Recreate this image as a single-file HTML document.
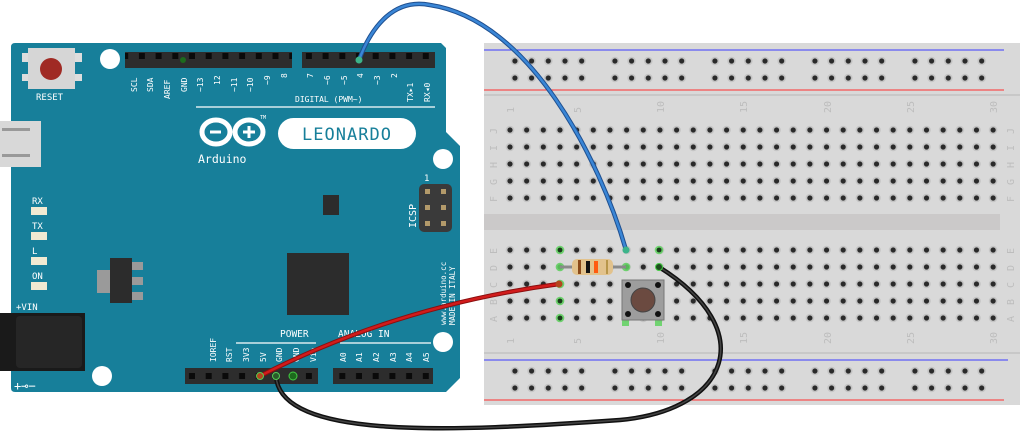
<!DOCTYPE html>
<html><head><meta charset="utf-8"><style>
html,body{margin:0;padding:0;background:#fff;width:1024px;height:448px;overflow:hidden}
svg{display:block}
text{font-family:"DejaVu Sans Mono","Liberation Mono",monospace}
</style></head><body>
<svg width="1024" height="448" viewBox="0 0 1024 448" xmlns="http://www.w3.org/2000/svg">
<defs>
<pattern id="g1" patternUnits="userSpaceOnUse" x="501.67" y="121.5" width="16.66" height="17">
<circle cx="8.33" cy="8.5" r="4.3" fill="#c4c4c4"/><circle cx="8.33" cy="8.5" r="2.6" fill="#2a2a2a"/></pattern>
<pattern id="g2" patternUnits="userSpaceOnUse" x="501.67" y="241.5" width="16.66" height="17">
<circle cx="8.33" cy="8.5" r="4.3" fill="#c4c4c4"/><circle cx="8.33" cy="8.5" r="2.6" fill="#2a2a2a"/></pattern>
<pattern id="r1" patternUnits="userSpaceOnUse" x="506.6" y="52.5" width="100" height="17">
<g fill="#c4c4c4"><circle cx="8.35" cy="8.5" r="4.3"/><circle cx="25" cy="8.5" r="4.3"/><circle cx="41.7" cy="8.5" r="4.3"/><circle cx="58.4" cy="8.5" r="4.3"/><circle cx="75.1" cy="8.5" r="4.3"/></g>
<g fill="#2a2a2a"><circle cx="8.35" cy="8.5" r="2.6"/><circle cx="25" cy="8.5" r="2.6"/><circle cx="41.7" cy="8.5" r="2.6"/><circle cx="58.4" cy="8.5" r="2.6"/><circle cx="75.1" cy="8.5" r="2.6"/></g></pattern>
<pattern id="r2" patternUnits="userSpaceOnUse" x="506.6" y="362.5" width="100" height="17">
<g fill="#c4c4c4"><circle cx="8.35" cy="8.5" r="4.3"/><circle cx="25" cy="8.5" r="4.3"/><circle cx="41.7" cy="8.5" r="4.3"/><circle cx="58.4" cy="8.5" r="4.3"/><circle cx="75.1" cy="8.5" r="4.3"/></g>
<g fill="#2a2a2a"><circle cx="8.35" cy="8.5" r="2.6"/><circle cx="25" cy="8.5" r="2.6"/><circle cx="41.7" cy="8.5" r="2.6"/><circle cx="58.4" cy="8.5" r="2.6"/><circle cx="75.1" cy="8.5" r="2.6"/></g></pattern>
<pattern id="hp" patternUnits="userSpaceOnUse" x="0" y="0" width="16.7" height="16">
<rect width="16.7" height="16" fill="#2d2d2d"/><rect x="5.3" y="5" width="6" height="6" fill="#0a0a0a"/></pattern>
</defs>

<!-- Breadboard -->
<rect x="484" y="43" width="536" height="362" fill="#d9d9d9"/>
<rect x="484" y="94" width="536" height="2" fill="#c8c8c8"/>
<rect x="484" y="352" width="536" height="2" fill="#c8c8c8"/>
<line x1="484" y1="50" x2="1004" y2="50" stroke="#3b3bff" stroke-width="1"/>
<line x1="484" y1="90" x2="1004" y2="90" stroke="#ff3030" stroke-width="1"/>
<line x1="484" y1="360" x2="1008" y2="360" stroke="#3b3bff" stroke-width="1"/>
<line x1="484" y1="400" x2="1004" y2="400" stroke="#ff3030" stroke-width="1"/>
<rect x="484" y="214" width="516" height="16" fill="#cbc9c9"/>
<rect x="506.6" y="52.5" width="500" height="34" fill="url(#r1)"/>
<rect x="506.6" y="362.5" width="500" height="34" fill="url(#r2)"/>
<rect x="501.67" y="121.5" width="499.8" height="85" fill="url(#g1)"/>
<rect x="501.67" y="241.5" width="499.8" height="85" fill="url(#g2)"/>
<g fill="#bdbdbd" font-size="10" font-family="Liberation Sans,sans-serif">
<g transform="translate(514,113) rotate(-90)"><text>1</text></g>
<g transform="translate(581,113) rotate(-90)"><text>5</text></g>
<g transform="translate(664,113) rotate(-90)"><text>10</text></g>
<g transform="translate(747,113) rotate(-90)"><text>15</text></g>
<g transform="translate(831,113) rotate(-90)"><text>20</text></g>
<g transform="translate(914,113) rotate(-90)"><text>25</text></g>
<g transform="translate(997,113) rotate(-90)"><text>30</text></g>
<g transform="translate(514,344) rotate(-90)"><text>1</text></g>
<g transform="translate(581,344) rotate(-90)"><text>5</text></g>
<g transform="translate(664,344) rotate(-90)"><text>10</text></g>
<g transform="translate(747,344) rotate(-90)"><text>15</text></g>
<g transform="translate(831,344) rotate(-90)"><text>20</text></g>
<g transform="translate(914,344) rotate(-90)"><text>25</text></g>
<g transform="translate(997,344) rotate(-90)"><text>30</text></g>
<g transform="translate(497,134) rotate(-90)"><text>J</text></g>
<g transform="translate(497,151) rotate(-90)"><text>I</text></g>
<g transform="translate(497,168) rotate(-90)"><text>H</text></g>
<g transform="translate(497,185) rotate(-90)"><text>G</text></g>
<g transform="translate(497,202) rotate(-90)"><text>F</text></g>
<g transform="translate(497,254) rotate(-90)"><text>E</text></g>
<g transform="translate(497,271) rotate(-90)"><text>D</text></g>
<g transform="translate(497,288) rotate(-90)"><text>C</text></g>
<g transform="translate(497,305) rotate(-90)"><text>B</text></g>
<g transform="translate(497,322) rotate(-90)"><text>A</text></g>
<g transform="translate(1014,134) rotate(-90)"><text>J</text></g>
<g transform="translate(1014,151) rotate(-90)"><text>I</text></g>
<g transform="translate(1014,168) rotate(-90)"><text>H</text></g>
<g transform="translate(1014,185) rotate(-90)"><text>G</text></g>
<g transform="translate(1014,202) rotate(-90)"><text>F</text></g>
<g transform="translate(1014,254) rotate(-90)"><text>E</text></g>
<g transform="translate(1014,271) rotate(-90)"><text>D</text></g>
<g transform="translate(1014,288) rotate(-90)"><text>C</text></g>
<g transform="translate(1014,305) rotate(-90)"><text>B</text></g>
<g transform="translate(1014,322) rotate(-90)"><text>A</text></g>
</g>
<!-- green highlights -->
<g fill="#5fd35f" opacity="0.85">
<circle cx="560" cy="250" r="4.3"/><circle cx="560" cy="267" r="4.3"/><circle cx="560" cy="284" r="4.3"/><circle cx="560" cy="301" r="4.3"/><circle cx="560" cy="318" r="4.3"/>
<circle cx="626" cy="267" r="4.3"/><circle cx="626" cy="284" r="4.3"/><circle cx="659" cy="250" r="4.3"/><circle cx="659" cy="284" r="4.3"/>
<rect x="622" y="316" width="7" height="10"/><rect x="655" y="316" width="7" height="10"/>
</g>
<g fill="#1a3a1a"><circle cx="560" cy="250" r="2.4"/><circle cx="560" cy="301" r="2.4"/><circle cx="560" cy="318" r="2.4"/><circle cx="659" cy="250" r="2.4"/></g>
<!-- resistor -->
<line x1="560" y1="267" x2="626" y2="267" stroke="#8a8a8a" stroke-width="3"/>
<rect x="572" y="259" width="41" height="16" rx="5" fill="#e2c28c"/>
<rect x="578" y="260" width="3" height="14" fill="#8a4a1a"/>
<rect x="586" y="261" width="4" height="12" fill="#111"/>
<rect x="594" y="261" width="4" height="12" fill="#ff5a10"/>
<rect x="606" y="260" width="2" height="14" fill="#b8964a"/>
<!-- button -->
<rect x="622" y="280" width="42" height="40" fill="#9d9d9d" stroke="#777" stroke-width="1"/>
<circle cx="628" cy="285" r="3" fill="#111"/><circle cx="658" cy="285" r="3" fill="#111"/>
<circle cx="628" cy="314" r="3" fill="#111"/><circle cx="658" cy="314" r="3" fill="#111"/>
<circle cx="643" cy="300" r="12" fill="#6b4a40" stroke="#444" stroke-width="1"/>

<!-- Arduino -->
<path d="M15,43 L441,43 L446,48 L446,132 L460,146 L460,378 L446,392 L15,392 Q11,392 11,388 L11,47 Q11,43 15,43 Z" fill="#177f9a"/>
<circle cx="110" cy="59" r="10" fill="#fff"/>
<circle cx="443" cy="159" r="10" fill="#fff"/>
<circle cx="443" cy="342" r="10" fill="#fff"/>
<circle cx="102" cy="376" r="10" fill="#fff"/>
<!-- reset -->
<rect x="22" y="53" width="60" height="9" fill="#ddd"/><rect x="22" y="74" width="60" height="7" fill="#ddd"/>
<rect x="28" y="48" width="47" height="41" fill="#d6d6d6"/>
<circle cx="51" cy="69" r="11" fill="#a02a24"/>
<text x="36" y="100" font-size="9" fill="#fff">RESET</text>
<!-- usb -->
<rect x="0" y="121" width="41" height="46" fill="#d8d8d8"/>
<rect x="2" y="128" width="28" height="3" fill="#999"/><rect x="2" y="154" width="28" height="3" fill="#999"/>
<!-- LEDs -->
<g fill="#fff" font-size="9"><text x="32" y="204">RX</text><text x="32" y="229">TX</text><text x="32" y="254">L</text><text x="32" y="279">ON</text></g>
<g fill="#f1ead2"><rect x="31" y="207" width="16" height="8"/><rect x="31" y="232" width="16" height="8"/><rect x="31" y="257" width="16" height="8"/><rect x="31" y="282" width="16" height="8"/></g>
<!-- regulator -->
<rect x="97" y="270" width="13" height="23" fill="#9a9a9a"/>
<rect x="131" y="262" width="12" height="8" fill="#9a9a9a"/><rect x="131" y="277" width="12" height="8" fill="#9a9a9a"/><rect x="131" y="292" width="12" height="8" fill="#9a9a9a"/>
<rect x="110" y="258" width="22" height="45" fill="#2c2c2c"/>
<!-- chips -->
<rect x="287" y="253" width="62" height="62" fill="#2c2c2c"/>
<rect x="323" y="195" width="16" height="20" fill="#2c2c2c"/>
<!-- ICSP -->
<rect x="419" y="184" width="33" height="48" rx="5" fill="#3a3a3a"/>
<g fill="#b39a6a"><rect x="425" y="189" width="5" height="5"/><rect x="441" y="189" width="5" height="5"/><rect x="425" y="205" width="5" height="5"/><rect x="441" y="205" width="5" height="5"/><rect x="425" y="221" width="5" height="5"/><rect x="441" y="221" width="5" height="5"/></g>
<text x="424" y="181" font-size="9" fill="#fff">1</text>
<g transform="translate(416,228) rotate(-90)"><text font-size="10" fill="#fff">ICSP</text></g>
<g transform="translate(446,325) rotate(-90)"><text font-size="7.5" fill="#fff">www.arduino.cc</text></g>
<g transform="translate(455,325) rotate(-90)"><text font-size="7.5" fill="#fff">MADE IN ITALY</text></g>
<!-- jack -->
<rect x="0" y="313" width="85" height="58" fill="#1a1a1a"/>
<rect x="16" y="316" width="66" height="52" rx="4" fill="#262626"/>
<text x="16" y="310" font-size="9" fill="#fff">+VIN</text>
<text x="14" y="390" font-size="12" fill="#fff">+⊸−</text>
<!-- logo -->
<g fill="none" stroke="#fff" stroke-width="5">
<ellipse cx="216" cy="132" rx="14" ry="12"/><ellipse cx="249" cy="132" rx="14" ry="12"/></g>
<g stroke="#fff" stroke-width="3"><line x1="210" y1="132" x2="221" y2="132"/><line x1="243" y1="132" x2="255" y2="132"/><line x1="249" y1="126" x2="249" y2="138"/></g>
<text x="198" y="163" font-size="11.5" fill="#fff">Arduino</text>
<text x="260" y="119" font-size="5" fill="#fff">TM</text>
<rect x="278" y="118" width="138" height="31" rx="15.5" fill="#fff"/>
<text x="347" y="140" font-size="17" fill="#177f9a" text-anchor="middle" letter-spacing="1">LEONARDO</text>
<!-- headers -->
<rect x="125" y="52" width="167" height="16" fill="url(#hp)"/>
<rect x="302" y="52" width="133" height="16" fill="url(#hp)"/>
<rect x="185" y="368" width="133" height="16" fill="url(#hp)"/>
<rect x="333" y="368" width="100" height="16" fill="url(#hp)"/>
<circle cx="183" cy="60" r="3" fill="#1d6a1d"/>
<circle cx="293" cy="376" r="4" fill="#1d6a1d" stroke="#4c4" stroke-width="1"/>
<line x1="196" y1="107" x2="435" y2="107" stroke="#fff" stroke-width="1.3"/>
<line x1="236" y1="343" x2="316" y2="343" stroke="#fff" stroke-width="1.3"/>
<line x1="340" y1="343" x2="431" y2="343" stroke="#fff" stroke-width="1.3"/>
<text x="295" y="102" font-size="8" fill="#fff">DIGITAL (PWM~)</text>
<text x="280" y="337" font-size="9.5" fill="#fff">POWER</text>
<text x="338" y="337" font-size="9.5" fill="#fff">ANALOG IN</text>
<g font-size="8" fill="#fff">
<g transform="translate(137,92) rotate(-90)"><text>SCL</text></g>
<g transform="translate(153,92) rotate(-90)"><text>SDA</text></g>
<g transform="translate(170,99) rotate(-90)"><text>AREF</text></g>
<g transform="translate(187,92) rotate(-90)"><text>GND</text></g>
<g transform="translate(203,92) rotate(-90)"><text>~13</text></g>
<g transform="translate(220,85) rotate(-90)"><text>12</text></g>
<g transform="translate(237,92) rotate(-90)"><text>~11</text></g>
<g transform="translate(253,92) rotate(-90)"><text>~10</text></g>
<g transform="translate(270,85) rotate(-90)"><text>~9</text></g>
<g transform="translate(287,78) rotate(-90)"><text>8</text></g>
<g transform="translate(313,78) rotate(-90)"><text>7</text></g>
<g transform="translate(330,85) rotate(-90)"><text>~6</text></g>
<g transform="translate(347,85) rotate(-90)"><text>~5</text></g>
<g transform="translate(363,78) rotate(-90)"><text>4</text></g>
<g transform="translate(380,85) rotate(-90)"><text>~3</text></g>
<g transform="translate(397,78) rotate(-90)"><text>2</text></g>
<g transform="translate(413,102) rotate(-90)"><text>TX▸1</text></g>
<g transform="translate(430,102) rotate(-90)"><text>RX◂0</text></g>
<g transform="translate(216,362) rotate(-90)"><text>IOREF</text></g>
<g transform="translate(232,362) rotate(-90)"><text>RST</text></g>
<g transform="translate(249,362) rotate(-90)"><text>3V3</text></g>
<g transform="translate(266,362) rotate(-90)"><text>5V</text></g>
<g transform="translate(282,362) rotate(-90)"><text>GND</text></g>
<g transform="translate(299,362) rotate(-90)"><text>GND</text></g>
<g transform="translate(316,362) rotate(-90)"><text>Vin</text></g>
<g transform="translate(346,362) rotate(-90)"><text>A0</text></g>
<g transform="translate(362,362) rotate(-90)"><text>A1</text></g>
<g transform="translate(379,362) rotate(-90)"><text>A2</text></g>
<g transform="translate(396,362) rotate(-90)"><text>A3</text></g>
<g transform="translate(412,362) rotate(-90)"><text>A4</text></g>
<g transform="translate(429,362) rotate(-90)"><text>A5</text></g>
</g>

<!-- wires -->
<path d="M359,60 C372,25 395,-2 430,5 C530,20 600,160 626,250" fill="none" stroke="#1f4f8f" stroke-width="4.5" stroke-linecap="round"/>
<path d="M359,60 C372,25 395,-2 430,5 C530,20 600,160 626,250" fill="none" stroke="#3a86d6" stroke-width="2.5" stroke-linecap="round"/>
<circle cx="359" cy="60" r="3.5" fill="#3cb48a"/><circle cx="626" cy="250" r="3.5" fill="#3cb48a"/>
<path d="M276,376 C280,440 450,432 620,420 C730,410 760,330 659,267" fill="none" stroke="#111" stroke-width="4.5" stroke-linecap="round"/>
<path d="M276,376 C280,440 450,432 620,420 C730,410 760,330 659,267" fill="none" stroke="#444" stroke-width="1.5" stroke-linecap="round"/>
<circle cx="276" cy="376" r="3.5" fill="#2a5a2a" stroke="#5c5" stroke-width="1"/><circle cx="659" cy="267" r="3.5" fill="#1d4d1d" stroke="#4c4" stroke-width="1"/>
<path d="M260,376 C340,335 440,300 559,284" fill="none" stroke="#8a0f0f" stroke-width="4.5" stroke-linecap="round"/>
<path d="M260,376 C340,335 440,300 559,284" fill="none" stroke="#d21b1b" stroke-width="2.5" stroke-linecap="round"/>
<circle cx="260" cy="376" r="3.5" fill="#b4461e" stroke="#5c5" stroke-width="1"/><circle cx="559" cy="284" r="3.5" fill="#b4461e"/>
</svg>
</body></html>
